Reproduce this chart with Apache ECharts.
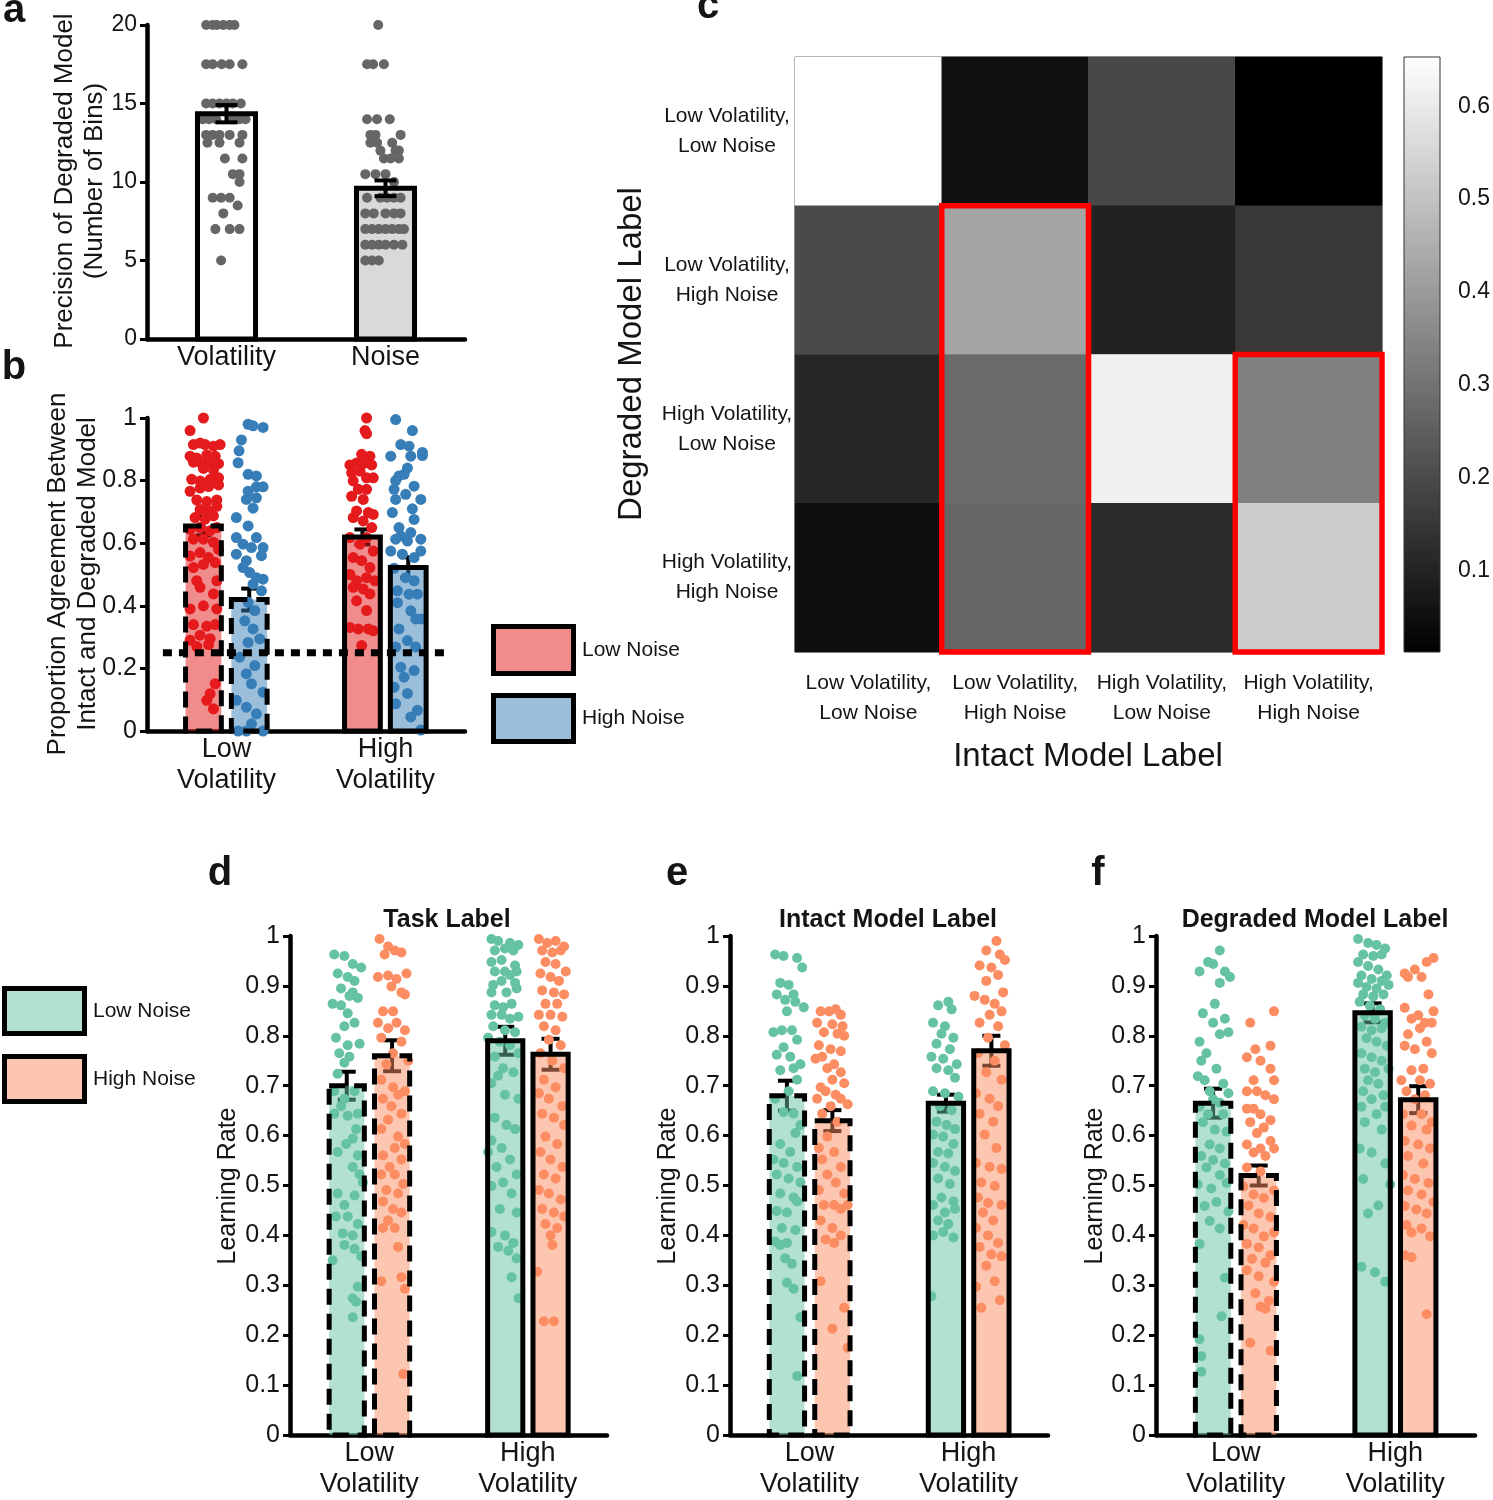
<!DOCTYPE html>
<html>
<head>
<meta charset="utf-8">
<script src="https://cdn.jsdelivr.net/npm/echarts@6/dist/echarts.min.js"></script>
<style>
  html, body { margin: 0; background: #fff; }
  #chart { width: 1493px; height: 1500px; }
</style>
</head>
<body>
<div id="chart"></div>
<script>
// ---------- a: precision of degraded model ----------
const precisionCats = ['Volatility', 'Noise']
const precisionMean = [14.35, 9.6]
const precisionSem = [0.55, 0.5]
// dots: [jitter, number of bins]
const precisionVolDots = [[-0.128,20],[-0.087,20],[-0.06,20],[-0.02,20],[0.02,20],[0.05,20],[-0.128,17.5],[-0.087,17.5],[-0.03,17.5],[0.02,17.5],[0.1,17.5],[-0.128,15],[-0.087,15],[-0.044,15],[0,15],[0.04,15],[0.09,15],[-0.15,14],[-0.11,14],[-0.065,14],[0.04,14],[0.082,14],[0.12,14],[-0.128,13],[-0.087,13],[-0.044,13],[0.02,13],[0.1,13],[-0.12,12.5],[-0.044,12.5],[0.082,12.5],[-0.01,11.5],[0.1,11.5],[0.04,10.5],[0.082,10.5],[0.082,10],[-0.087,9],[-0.034,9],[0.02,9],[0.07,8.5],[-0.02,8],[-0.07,7],[0.02,7],[0.082,7],[-0.034,5]]
const precisionNoiseDots = [[-0.046,20],[-0.116,17.5],[-0.078,17.5],[-0.01,17.5],[-0.116,14],[-0.053,14],[0.027,14],[-0.095,13],[-0.063,13],[0.095,13],[-0.095,12.5],[-0.053,12.5],[0.042,12.5],[-0.032,12],[0.063,12],[0.084,12],[-0.01,11.5],[0.032,11.5],[0.084,11.5],[-0.127,10.5],[-0.063,10.5],[0,10.5],[0.053,10],[-0.116,9],[-0.032,9],[0.01,9],[0.053,9],[0.095,9],[-0.127,8],[-0.074,8],[0,8],[0.053,8],[0.095,8],[-0.127,7],[-0.084,7],[-0.042,7],[0,7],[0.042,7],[0.084,7],[0.116,7],[-0.127,6],[-0.084,6],[-0.042,6],[0,6],[0.053,6],[0.106,6],[-0.127,5],[-0.084,5],[-0.042,5]]

// ---------- b: agreement between intact and degraded model ----------
const volCats = ['Low\nVolatility', 'High\nVolatility']
const agreeLowNoise = [0.655, 0.62]
const agreeLowNoiseSem = [0.03, 0.024]
const agreeHighNoise = [0.42, 0.522]
const agreeHighNoiseSem = [0.035, 0.033]
const chanceLevel = 0.25
const agreeLowNoiseLowVolDots = [[0,1.0],[-0.084,0.96],[-0.063,0.915],[-0.021,0.92],[0.011,0.915],[0.063,0.91],[0.105,0.915],[-0.084,0.878],[-0.042,0.872],[0.021,0.882],[0.074,0.878],[-0.063,0.859],[-0.011,0.854],[0.042,0.859],[0.095,0.854],[0,0.839],[0.063,0.834],[-0.074,0.804],[-0.021,0.799],[0.042,0.804],[0.095,0.809],[-0.084,0.766],[-0.021,0.776],[0.032,0.781],[0.095,0.786],[-0.042,0.738],[0.021,0.733],[0.084,0.738],[-0.021,0.708],[0.032,0.703],[0.084,0.718],[-0.053,0.682],[0.011,0.677],[0.063,0.687],[-0.084,0.644],[-0.021,0.65],[0.042,0.64],[0.084,0.65],[-0.063,0.613],[0,0.613],[0.063,0.603],[-0.084,0.559],[-0.021,0.57],[0.032,0.554],[0.095,0.58],[-0.063,0.522],[0,0.532],[0.074,0.538],[-0.042,0.48],[0.084,0.48],[-0.021,0.459],[0.063,0.438],[-0.084,0.39],[0,0.4],[0.084,0.39],[-0.063,0.34],[0.021,0.335],[0.074,0.34],[-0.084,0.29],[-0.021,0.306],[0.042,0.295],[-0.042,0.27],[0.032,0.276],[0.074,0.151],[0.042,0.119],[0.021,0.098],[0.063,0.071]]
const agreeLowNoiseHighVolDots = [[0.026,1.0],[0.016,0.96],[0.026,0.95],[-0.005,0.884],[0.047,0.878],[-0.079,0.85],[-0.037,0.856],[0.016,0.856],[0.058,0.85],[-0.068,0.825],[-0.015,0.83],[0.026,0.809],[-0.058,0.799],[0.068,0.809],[-0.026,0.772],[0.026,0.772],[-0.068,0.75],[0.005,0.74],[-0.037,0.703],[0.037,0.698],[0.068,0.692],[-0.058,0.682],[0.005,0.671],[0.058,0.65],[-0.079,0.618],[-0.015,0.597],[0.026,0.618],[0.068,0.575],[-0.058,0.554],[-0.005,0.544],[0.047,0.522],[-0.079,0.5],[-0.037,0.48],[0.026,0.49],[0.079,0.48],[-0.058,0.459],[0.005,0.454],[0.047,0.438],[-0.037,0.416],[0.026,0.385],[-0.079,0.331],[-0.026,0.326],[0.037,0.326],[0.068,0.32],[-0.005,0.273]]
const agreeHighNoiseLowVolDots = [[-0.007,0.98],[0.024,0.975],[0.087,0.97],[-0.049,0.93],[-0.064,0.895],[-0.07,0.857],[-0.007,0.82],[0.045,0.815],[0.087,0.78],[0.045,0.78],[-0.007,0.766],[0.045,0.745],[-0.018,0.74],[0.024,0.712],[-0.081,0.682],[-0.007,0.655],[0.045,0.618],[-0.081,0.618],[-0.039,0.597],[0.014,0.586],[0.087,0.586],[-0.081,0.565],[-0.018,0.544],[0.077,0.56],[-0.039,0.522],[0.003,0.506],[0.045,0.49],[0.087,0.485],[0.024,0.469],[0.077,0.448],[-0.007,0.411],[0.035,0.385],[-0.028,0.352],[0.024,0.326],[0.066,0.294],[-0.007,0.283],[-0.06,0.236],[0.035,0.209],[-0.018,0.183],[0.014,0.151],[0.087,0.124],[-0.081,0.098],[-0.018,0.076],[0.045,0.055],[0.014,0.023],[-0.07,0.0],[-0.018,0.0],[0.087,0.0]]
const agreeHighNoiseHighVolDots = [[-0.079,0.995],[0.026,0.96],[-0.047,0.915],[0.005,0.91],[-0.11,0.878],[0.016,0.878],[0.089,0.89],[0.089,0.88],[-0.005,0.84],[-0.058,0.815],[-0.026,0.82],[-0.079,0.8],[0.037,0.782],[-0.089,0.772],[-0.016,0.756],[-0.079,0.74],[0.079,0.74],[0.026,0.71],[-0.1,0.698],[0.037,0.676],[-0.058,0.65],[0.016,0.634],[-0.047,0.623],[-0.079,0.613],[-0.005,0.607],[0.079,0.613],[-0.11,0.575],[-0.037,0.565],[0.037,0.554],[0.079,0.575],[-0.089,0.52],[-0.016,0.49],[0.037,0.48],[-0.068,0.448],[0.005,0.437],[0.058,0.437],[-0.068,0.41],[0.016,0.384],[0.047,0.358],[0.079,0.358],[-0.058,0.326],[-0.005,0.289],[0.047,0.268],[-0.079,0.268],[-0.047,0.204],[0.037,0.193],[-0.026,0.172],[-0.089,0.14],[-0.005,0.12],[-0.079,0.087],[0.058,0.066],[0.016,0.045],[0.079,0.003]]

// ---------- c: confusion between intact and degraded labels ----------
const modelLabels = ['Low Volatility,\nLow Noise', 'Low Volatility,\nHigh Noise', 'High Volatility,\nLow Noise', 'High Volatility,\nHigh Noise']
// rows: degraded model label (top to bottom), columns: intact model label
const confusion = [
  [0.653, 0.052, 0.193, 0.012],
  [0.198, 0.424, 0.097, 0.153],
  [0.110, 0.278, 0.615, 0.334],
  [0.047, 0.268, 0.120, 0.525]
]
const colourMin = 0.012
const colourMax = 0.653
const colourTicks = [0.1, 0.2, 0.3, 0.4, 0.5, 0.6]
const boxCol = [1, 3]
const boxFirstRow = [1, 2]
const boxLastRow = [3, 3]

// ---------- d-f: learning rates ----------
const taskLowNoise = [0.70, 0.79]
const taskLowNoiseSem = [0.028, 0.028]
const taskHighNoise = [0.76, 0.763]
const taskHighNoiseSem = [0.031, 0.031]
const taskLowNoiseLowVolDots = [[-0.079,0.963],[-0.015,0.96],[0.038,0.944],[0.091,0.937],[-0.057,0.925],[0.006,0.918],[0.049,0.91],[-0.036,0.895],[0.038,0.887],[-0.089,0.864],[-0.036,0.861],[0.017,0.88],[0.070,0.876],[0.006,0.845],[0.049,0.826],[-0.015,0.819],[-0.068,0.796],[0.081,0.784],[0.006,0.781],[-0.047,0.765],[0.017,0.758],[-0.015,0.746],[-0.057,0.724],[-0.079,0.689],[-0.015,0.674],[0.049,0.689],[-0.036,0.659],[-0.079,0.644],[0.006,0.64],[0.070,0.644],[0.059,0.613],[0.038,0.594],[-0.057,0.567],[-0.004,0.583],[0.070,0.56],[0.038,0.537],[0.081,0.522],[-0.057,0.484],[-0.015,0.461],[0.049,0.48],[0.102,0.506],[-0.068,0.438],[0.006,0.438],[0.070,0.423],[-0.025,0.404],[0.038,0.4],[-0.015,0.381],[0.049,0.373],[-0.089,0.35],[0.091,0.358],[0.070,0.297],[0.038,0.274],[0.059,0.267],[0.038,0.236]]
const taskLowNoiseHighVolDots = [[-0.087,0.994],[-0.045,0.99],[0.03,0.986],[0.083,0.982],[-0.066,0.971],[-0.002,0.975],[0.051,0.971],[-0.087,0.948],[-0.023,0.952],[0.062,0.941],[-0.066,0.929],[-0.002,0.929],[0.03,0.922],[0.072,0.929],[-0.076,0.902],[-0.023,0.91],[0.062,0.906],[-0.087,0.887],[0.008,0.887],[0.072,0.895],[-0.066,0.861],[-0.013,0.857],[0.04,0.864],[-0.087,0.842],[-0.023,0.842],[0.03,0.834],[0.083,0.838],[-0.076,0.819],[-0.002,0.811],[0.062,0.807],[-0.108,0.796],[-0.034,0.788],[0.03,0.781],[0.083,0.765],[-0.066,0.758],[-0.013,0.735],[0.051,0.727],[-0.045,0.72],[-0.087,0.705],[-0.002,0.682],[0.083,0.674],[-0.066,0.636],[0.008,0.621],[0.062,0.613],[-0.087,0.59],[-0.023,0.575],[-0.108,0.567],[0.03,0.552],[-0.055,0.537],[0.072,0.522],[-0.013,0.506],[-0.087,0.499],[0.04,0.484],[-0.034,0.453],[0.072,0.446],[-0.087,0.407],[-0.002,0.4],[0.051,0.385],[-0.045,0.377],[0.019,0.369],[0.072,0.354],[0.04,0.316],[0.083,0.274]]
const taskHighNoiseLowVolDots = [[-0.079,0.994],[-0.025,0.979],[0.017,0.971],[-0.047,0.963],[0.059,0.967],[-0.089,0.918],[-0.025,0.921],[0.028,0.914],[0.091,0.925],[-0.004,0.899],[0.059,0.887],[0.081,0.883],[-0.057,0.849],[0.006,0.849],[0.028,0.826],[-0.089,0.826],[-0.025,0.815],[0.081,0.811],[-0.068,0.796],[0.059,0.788],[0.006,0.765],[-0.036,0.743],[0.102,0.75],[-0.068,0.712],[0.006,0.697],[0.038,0.682],[-0.057,0.674],[0.081,0.689],[-0.004,0.659],[0.059,0.644],[-0.025,0.632],[-0.068,0.613],[0.038,0.598],[0.081,0.583],[-0.057,0.56],[0.017,0.575],[0.059,0.552],[-0.015,0.537],[-0.068,0.522],[0.017,0.522],[0.07,0.503],[-0.036,0.491],[0.038,0.484],[-0.057,0.468],[0.006,0.453],[0.059,0.446],[-0.025,0.43],[-0.057,0.415],[0.017,0.415],[0.038,0.377],[-0.068,0.308],[0.059,0.316],[0.081,0.293],[0.07,0.122]]
const taskHighNoiseHighVolDots = [[-0.074,0.994],[-0.021,0.986],[0.032,0.99],[0.085,0.979],[-0.053,0.971],[0.011,0.967],[0.064,0.971],[-0.032,0.948],[0.032,0.944],[0.096,0.929],[-0.064,0.925],[0,0.918],[0.053,0.91],[-0.053,0.891],[0.021,0.887],[0.085,0.883],[-0.032,0.864],[0.042,0.864],[-0.074,0.842],[0,0.842],[0.074,0.838],[-0.042,0.819],[0.032,0.811],[-0.011,0.792],[0.064,0.781],[-0.064,0.765],[0.011,0.75],[0.085,0.735],[-0.042,0.712],[0.032,0.697],[-0.074,0.685],[-0.011,0.674],[0.074,0.659],[-0.053,0.644],[0.021,0.636],[0.085,0.621],[-0.032,0.598],[0.042,0.583],[-0.064,0.567],[0,0.552],[0.074,0.537],[-0.042,0.522],[0.032,0.514],[-0.074,0.491],[-0.011,0.484],[0.064,0.472],[-0.053,0.453],[0.021,0.446],[0.085,0.438],[-0.032,0.423],[0.042,0.415],[0,0.4],[0.011,0.381],[-0.085,0.327],[-0.042,0.228],[0.021,0.228]]

const intactLowNoise = [0.68, 0.665]
const intactLowNoiseSem = [0.03, 0.017]
const intactHighNoise = [0.63, 0.77]
const intactHighNoiseSem = [0.021, 0.03]
const intactLowNoiseLowVolDots = [[-0.074,0.963],[-0.021,0.96],[0.064,0.956],[0.096,0.937],[-0.042,0.906],[0.011,0.902],[0.042,0.883],[-0.064,0.883],[-0.011,0.872],[0.053,0.868],[0.106,0.857],[0,0.849],[-0.085,0.807],[-0.032,0.811],[0.032,0.811],[0.064,0.792],[-0.021,0.777],[-0.064,0.762],[0.021,0.758],[0.085,0.743],[0.042,0.735],[-0.042,0.731],[0.064,0.712],[0.011,0.689],[-0.074,0.674],[-0.021,0.647],[0.042,0.644],[0.085,0.621],[0.053,0.605],[-0.042,0.583],[0.021,0.567],[-0.085,0.552],[-0.021,0.545],[0.064,0.537],[-0.064,0.522],[0.011,0.514],[0.085,0.506],[-0.042,0.484],[0.042,0.476],[-0.064,0.449],[0,0.446],[0.064,0.468],[-0.032,0.415],[0.053,0.411],[-0.074,0.388],[0,0.385],[-0.042,0.381],[-0.011,0.354],[0.032,0.343],[0,0.305],[0.042,0.293],[0.085,0.236],[0.064,0.118]]
const intactLowNoiseHighVolDots = [[0.015,0.868],[-0.049,0.861],[0.036,0.853],[-0.081,0.826],[-0.006,0.819],[-0.028,0.804],[0.047,0.796],[-0.059,0.784],[0.025,0.773],[-0.091,0.758],[-0.017,0.754],[0.068,0.743],[-0.059,0.735],[0.015,0.731],[0.057,0.716],[-0.081,0.689],[-0.006,0.685],[0.079,0.678],[-0.038,0.659],[0.036,0.651],[-0.059,0.628],[0.004,0.621],[0.057,0.613],[-0.081,0.602],[-0.017,0.598],[0.047,0.583],[-0.049,0.567],[0.015,0.564],[-0.081,0.545],[-0.006,0.537],[0.057,0.529],[-0.049,0.514],[0.025,0.503],[-0.028,0.476],[0.047,0.468],[-0.081,0.461],[-0.006,0.446],[0.057,0.453],[-0.049,0.43],[0.015,0.423],[-0.081,0.4],[-0.017,0.407],[0.047,0.396],[-0.091,0.278]]
const intactHighNoiseLowVolDots = [[-0.074,0.849],[-0.021,0.849],[0.021,0.853],[0.053,0.842],[-0.096,0.826],[0,0.823],[0.064,0.819],[-0.053,0.807],[0.032,0.804],[0.074,0.8],[-0.085,0.781],[-0.011,0.773],[0.053,0.769],[-0.064,0.758],[0.011,0.743],[-0.106,0.754],[-0.032,0.735],[0.053,0.727],[0,0.712],[-0.074,0.697],[0.074,0.705],[-0.042,0.689],[0.021,0.682],[-0.096,0.674],[0.053,0.674],[-0.011,0.659],[0.096,0.663],[-0.064,0.644],[0.032,0.628],[-0.032,0.598],[-0.085,0.575],[0.011,0.567],[-0.064,0.552],[0.053,0.537],[-0.032,0.522],[0.021,0.506],[-0.085,0.491],[0.074,0.484],[-0.053,0.461],[0.011,0.461],[0.053,0.453],[0.096,0.461],[-0.074,0.43],[0,0.415],[0.053,0.4],[-0.042,0.392],[0.011,0.385],[-0.074,0.308],[0.074,0.255],[0,0.213],[0.096,0.175]]
const intactHighNoiseHighVolDots = [[0.032,0.99],[-0.032,0.971],[0.053,0.963],[0.085,0.952],[-0.074,0.941],[0,0.937],[0.042,0.922],[-0.032,0.91],[0.074,0.887],[-0.106,0.88],[-0.042,0.872],[0.021,0.864],[0.064,0.849],[-0.011,0.842],[-0.074,0.826],[0.042,0.819],[-0.021,0.796],[0.085,0.781],[-0.085,0.765],[0.021,0.75],[-0.032,0.727],[0.064,0.712],[-0.096,0.685],[-0.011,0.674],[0.042,0.659],[-0.074,0.644],[0.011,0.628],[-0.042,0.602],[0.032,0.575],[-0.096,0.545],[-0.011,0.537],[0.064,0.533],[-0.064,0.506],[0.021,0.499],[-0.085,0.476],[-0.021,0.465],[0.064,0.461],[-0.053,0.446],[0.011,0.43],[-0.096,0.415],[-0.021,0.4],[0.042,0.385],[-0.074,0.377],[0,0.362],[0.064,0.358],[-0.032,0.339],[0.021,0.308],[-0.096,0.297],[0.053,0.27],[-0.064,0.255]]

const degradedLowNoise = [0.665, 0.846]
const degradedLowNoiseSem = [0.029, 0.019]
const degradedHighNoise = [0.52, 0.672]
const degradedHighNoiseSem = [0.02, 0.027]
const degradedLowNoiseLowVolDots = [[0.042,0.971],[-0.032,0.948],[0,0.944],[0.074,0.929],[0.106,0.918],[-0.085,0.929],[0.042,0.906],[0.011,0.864],[-0.064,0.845],[0.074,0.834],[0,0.826],[0.096,0.807],[0.042,0.803],[-0.085,0.788],[-0.042,0.765],[-0.074,0.75],[0.021,0.734],[-0.096,0.719],[-0.053,0.711],[0.064,0.704],[-0.021,0.689],[0,0.673],[0.096,0.685],[0.042,0.666],[-0.085,0.658],[-0.032,0.643],[0.064,0.643],[-0.064,0.627],[0.011,0.612],[0.085,0.608],[-0.021,0.582],[0.042,0.574],[-0.074,0.559],[0,0.551],[0.074,0.544],[-0.042,0.536],[0.042,0.521],[-0.096,0.502],[-0.011,0.494],[0.085,0.505],[0.021,0.467],[-0.053,0.459],[0.096,0.448],[-0.021,0.429],[0.042,0.414],[-0.085,0.383],[0.074,0.315],[0.053,0.238],[-0.085,0.192],[-0.074,0.158],[-0.074,0.127]]
const degradedLowNoiseHighVolDots = [[-0.091,0.994],[-0.028,0.986],[0.025,0.982],[0.079,0.975],[-0.059,0.963],[0.004,0.96],[0.057,0.963],[-0.091,0.948],[-0.028,0.94],[0.036,0.933],[0.089,0.921],[-0.07,0.921],[-0.006,0.914],[0.057,0.91],[-0.091,0.906],[-0.038,0.898],[0.025,0.895],[0.1,0.902],[-0.059,0.883],[0.004,0.879],[0.068,0.883],[-0.081,0.868],[-0.017,0.86],[0.047,0.853],[-0.049,0.841],[0.015,0.834],[0.079,0.826],[-0.07,0.818],[-0.006,0.811],[0.057,0.815],[-0.038,0.795],[0.025,0.788],[0.089,0.78],[-0.07,0.765],[-0.006,0.757],[0.057,0.75],[-0.049,0.734],[0.015,0.727],[0.1,0.734],[-0.028,0.711],[0.036,0.704],[-0.059,0.689],[0.068,0.681],[-0.006,0.673],[-0.07,0.658],[0.079,0.658],[0.025,0.643],[-0.049,0.627],[0.057,0.612],[-0.081,0.574],[-0.006,0.566],[0.079,0.544],[-0.059,0.513],[0.11,0.502],[0.036,0.46],[-0.028,0.444],[-0.07,0.337],[0.015,0.326],[0.079,0.307]]
const degradedHighNoiseLowVolDots = [[0.096,0.849],[-0.053,0.826],[-0.021,0.773],[0.074,0.78],[-0.074,0.757],[0.011,0.75],[0.074,0.734],[-0.032,0.711],[0.096,0.711],[-0.074,0.689],[-0.011,0.689],[0.042,0.681],[-0.032,0.654],[0.096,0.673],[-0.074,0.654],[0.011,0.643],[0.074,0.631],[-0.053,0.627],[0.032,0.616],[-0.011,0.605],[0.074,0.589],[-0.074,0.582],[0.011,0.574],[0.096,0.574],[-0.032,0.566],[0.042,0.559],[-0.074,0.536],[0.011,0.528],[-0.096,0.498],[-0.032,0.482],[0.032,0.475],[0.096,0.49],[-0.064,0.46],[0,0.444],[0.074,0.437],[-0.096,0.421],[-0.032,0.414],[0.032,0.398],[0.096,0.406],[-0.074,0.383],[0,0.376],[0.074,0.36],[-0.042,0.353],[0.042,0.345],[-0.074,0.33],[0,0.318],[0.096,0.307],[-0.021,0.284],[0.064,0.269],[0.011,0.257],[0.042,0.253],[-0.053,0.185],[0.074,0.169]]
const degradedHighNoiseHighVolDots = [[0.096,0.956],[0.053,0.948],[-0.085,0.925],[-0.021,0.933],[0.021,0.918],[-0.064,0.918],[0.064,0.883],[-0.085,0.856],[0,0.841],[0.096,0.849],[-0.042,0.834],[0.042,0.826],[0.085,0.826],[0.011,0.815],[-0.064,0.803],[0.053,0.788],[-0.085,0.78],[-0.021,0.773],[0.085,0.765],[0.032,0.734],[-0.042,0.731],[-0.106,0.711],[0.011,0.711],[0.074,0.704],[-0.074,0.689],[0.042,0.681],[-0.021,0.673],[-0.096,0.643],[0.021,0.643],[0.085,0.627],[-0.042,0.62],[0.053,0.612],[-0.085,0.589],[0,0.582],[0.074,0.574],[-0.064,0.559],[0.032,0.544],[-0.096,0.521],[-0.021,0.513],[0.064,0.505],[-0.064,0.49],[0.021,0.482],[0.096,0.467],[-0.085,0.459],[-0.011,0.452],[0.053,0.444],[-0.074,0.421],[0.021,0.414],[-0.042,0.406],[0.074,0.398],[-0.085,0.36],[-0.042,0.356],[0.053,0.242]]

// ---------- drawing ----------
const F = "'Liberation Sans', Arial, Helvetica, sans-serif"
const INK = '#141414'
const RED = '#e41a1c', BLUE = '#377eb8', TEAL = '#66c2a5', ORANGE = '#fc8d62'

const chart = echarts.init(document.getElementById('chart'))

const grids = [
  { left: 147, top: 25, width: 318, height: 314 },   // a
  { left: 147, top: 418, width: 318, height: 313 },  // b
  { left: 795, top: 57, width: 587, height: 595, show: true, borderColor: '#3a3a3a', borderWidth: 1 }, // c
  { left: 1404, top: 57, width: 36, height: 595 },   // colour bar
  { left: 290, top: 936, width: 317, height: 501 },  // d
  { left: 730, top: 936, width: 318, height: 501 },  // e
  { left: 1156, top: 936, width: 319, height: 501 }  // f
]
const xAxes = []
const yAxes = []
const series = []

function barAxes(g, labels, yMax, step, tickFont, digits) {
  xAxes.push({
    gridIndex: g, type: 'value', min: 0.5, max: 2.5, splitLine: { show: false },
    axisLine: { lineStyle: { color: '#000', width: 4.5 } }, axisTick: { show: false },
    axisLabel: { customValues: [1, 2], formatter: v => labels[Math.round(v) - 1], fontSize: 27, lineHeight: 31,
      color: INK, margin: 3, fontFamily: F }
  })
  yAxes.push({
    gridIndex: g, type: 'value', min: 0, max: yMax, interval: step, splitLine: { show: false },
    axisLine: { show: true, lineStyle: { color: '#000', width: 4.5 } },
    axisTick: { show: true, length: 7, lineStyle: { color: '#000', width: 3 } },
    axisLabel: { fontSize: tickFont, color: INK, margin: 10, fontFamily: F, formatter: v => String(+v.toFixed(digits)) }
  })
}

function errorBar(api, shift, cap) {
  const x = api.value(0) + shift
  const hi = api.coord([x, api.value(1) + api.value(2)])
  const lo = api.coord([x, api.value(1) - api.value(2)])
  const st = { stroke: '#000', lineWidth: 4 }
  return {
    type: 'group', children: [
      { type: 'line', shape: { x1: hi[0], y1: hi[1], x2: lo[0], y2: lo[1] }, style: st },
      { type: 'line', shape: { x1: hi[0] - cap, y1: hi[1], x2: hi[0] + cap, y2: hi[1] }, style: st },
      { type: 'line', shape: { x1: lo[0] - cap, y1: lo[1], x2: lo[0] + cap, y2: lo[1] }, style: st }
    ]
  }
}

// one bar per category: fill, outline (dashed for low volatility) and s.e.m. bar
// fills: one colour per category
function barGroup(g, means, sems, shift, width, fills, fillOpacity, dashFirst, errorOnTop, cap) {
  const data = means.map((m, i) => [i + 1, m, sems[i]])
  const rectOf = api => {
    const x = api.value(0) + shift
    const p0 = api.coord([x - width / 2, api.value(1)])
    const p1 = api.coord([x + width / 2, 0])
    return { x: p0[0], y: p0[1], width: p1[0] - p0[0], height: p1[1] - p0[1] }
  }
  const base = { type: 'custom', xAxisIndex: g, yAxisIndex: g, data, silent: true }
  series.push(
    { ...base, z: errorOnTop ? 6 : 1, renderItem: (p, api) => errorBar(api, shift, cap) },
    { ...base, z: 2, renderItem: (p, api) => ({ type: 'rect', shape: rectOf(api),
        style: { fill: fills[p.dataIndex], opacity: fillOpacity } }) },
    { ...base, z: 5, renderItem: (p, api) => ({
        type: 'rect', shape: rectOf(api),
        style: { fill: 'none', stroke: '#000', lineWidth: 5, lineDash: dashFirst && api.value(0) === 1 ? [16, 9] : null }
      }) }
  )
}

function dotSeries(g, dotsPerCat, shift, color, size) {
  const data = []
  dotsPerCat.forEach((list, i) => list.forEach(d => data.push([i + 1 + shift + d[0], d[1]])))
  series.push({ type: 'scatter', xAxisIndex: g, yAxisIndex: g, data, symbolSize: size,
    itemStyle: { color, opacity: 1 }, z: 3, silent: true, clip: false })
}

// a
barAxes(0, precisionCats, 20, 5, 23, 0)
barGroup(0, precisionMean, precisionSem, 0, 0.365, ['#ffffff', '#d9d9d9'], 1, false, true, 11)
dotSeries(0, [precisionVolDots, precisionNoiseDots], 0, '#666666', 10)

// b
barAxes(1, volCats, 1, 0.2, 25, 1)
barGroup(1, agreeLowNoise, agreeLowNoiseSem, -0.145, 0.225, [RED, RED], 0.5, true, false, 8)
barGroup(1, agreeHighNoise, agreeHighNoiseSem, 0.143, 0.225, [BLUE, BLUE], 0.5, true, false, 8)
dotSeries(1, [agreeLowNoiseLowVolDots, agreeLowNoiseHighVolDots], -0.145, RED, 11)
dotSeries(1, [agreeHighNoiseLowVolDots, agreeHighNoiseHighVolDots], 0.143, BLUE, 11)
series.push({ type: 'custom', xAxisIndex: 1, yAxisIndex: 1, silent: true, z: 7, data: [[chanceLevel]],
  renderItem: (p, api) => {
    const a = api.coord([0.6, api.value(0)]), b = api.coord([2.4, api.value(0)])
    return { type: 'line', shape: { x1: a[0], y1: a[1], x2: b[0], y2: b[1] }, style: { stroke: '#000', lineWidth: 7, lineDash: [9, 7] } }
  } })

// c heatmap
xAxes.push({ gridIndex: 2, type: 'category', data: modelLabels, axisLine: { show: false }, axisTick: { show: false },
  axisLabel: { interval: 0, fontSize: 21, lineHeight: 30, margin: 16, color: INK, fontFamily: F } })
yAxes.push({ gridIndex: 2, type: 'category', data: modelLabels, inverse: true, axisLine: { show: false }, axisTick: { show: false },
  axisLabel: { interval: 0, align: 'center', fontSize: 21, lineHeight: 30, margin: 68, color: INK, fontFamily: F } })
const heatData = []
confusion.forEach((row, r) => row.forEach((v, c) => heatData.push([c, r, v])))
series.push({ type: 'heatmap', xAxisIndex: 2, yAxisIndex: 2, data: heatData, silent: true, z: 1 })
series.push({ type: 'custom', xAxisIndex: 2, yAxisIndex: 2, silent: true, z: 3,
  data: boxCol.map((c, i) => [c, boxFirstRow[i], boxLastRow[i]]),
  renderItem: (p, api) => {
    const a = api.coord([api.value(0), api.value(1)])
    const b = api.coord([api.value(0), api.value(2)])
    const sz = api.size([1, 1])
    return { type: 'rect', shape: { x: a[0] - sz[0] / 2, y: a[1] - sz[1] / 2, width: sz[0], height: b[1] - a[1] + sz[1] },
      style: { fill: 'none', stroke: '#ff0000', lineWidth: 5.5 } }
  } })

// colour bar
xAxes.push({ gridIndex: 3, type: 'value', min: 0, max: 1, show: false })
yAxes.push({ gridIndex: 3, type: 'value', position: 'right', min: colourMin, max: colourMax, splitLine: { show: false },
  axisLine: { show: false },
  axisTick: { show: true, customValues: colourTicks, length: 6, lineStyle: { color: '#333' } },
  axisLabel: { customValues: colourTicks, formatter: v => v.toFixed(1), fontSize: 23, color: INK, margin: 18, fontFamily: F } })
series.push({ type: 'custom', xAxisIndex: 3, yAxisIndex: 3, silent: true, data: [[colourMin, colourMax]],
  renderItem: (p, api) => {
    const top = api.coord([0, api.value(1)]), bot = api.coord([1, api.value(0)])
    return { type: 'rect', shape: { x: top[0], y: top[1], width: bot[0] - top[0], height: bot[1] - top[1] },
      style: { stroke: '#333', lineWidth: 1,
        fill: new echarts.graphic.LinearGradient(0, 0, 0, 1, [{ offset: 0, color: '#ffffff' }, { offset: 1, color: '#000000' }]) } }
  } })

// d, e, f
const lrPanels = [
  [4, taskLowNoise, taskLowNoiseSem, taskHighNoise, taskHighNoiseSem,
    [taskLowNoiseLowVolDots, taskLowNoiseHighVolDots], [taskHighNoiseLowVolDots, taskHighNoiseHighVolDots]],
  [5, intactLowNoise, intactLowNoiseSem, intactHighNoise, intactHighNoiseSem,
    [intactLowNoiseLowVolDots, intactLowNoiseHighVolDots], [intactHighNoiseLowVolDots, intactHighNoiseHighVolDots]],
  [6, degradedLowNoise, degradedLowNoiseSem, degradedHighNoise, degradedHighNoiseSem,
    [degradedLowNoiseLowVolDots, degradedLowNoiseHighVolDots], [degradedHighNoiseLowVolDots, degradedHighNoiseHighVolDots]]
]
lrPanels.forEach(([g, lo, loSem, hi, hiSem, loDots, hiDots]) => {
  barAxes(g, volCats, 1, 0.1, 25, 1)
  barGroup(g, lo, loSem, -0.142, 0.222, [TEAL, TEAL], 0.5, true, false, 9)
  barGroup(g, hi, hiSem, 0.144, 0.222, [ORANGE, ORANGE], 0.5, true, false, 9)
  dotSeries(g, loDots, -0.142, TEAL, 10)
  dotSeries(g, hiDots, 0.144, ORANGE, 10)
})

// texts, legends
const txt = (x, y, text, size, opts = {}) => ({ type: 'text', x, y, rotation: opts.rot || 0, silent: true,
  style: { text, fill: INK, font: `${opts.bold ? 'bold ' : ''}${size}px ${F}`, textAlign: opts.align || 'center',
    textVerticalAlign: 'middle', lineHeight: opts.lh || size * 1.2 } })
const box = (x, y, w, h, fill) => ({ type: 'rect', silent: true, shape: { x, y, width: w, height: h },
  style: { fill, stroke: '#000', lineWidth: 5 } })

const graphic = [
  txt(14, 11, 'a', 40, { bold: true }), txt(14, 368, 'b', 40, { bold: true }), txt(708, 7, 'c', 40, { bold: true }),
  txt(220, 874, 'd', 40, { bold: true }), txt(677, 874, 'e', 40, { bold: true }), txt(1098, 874, 'f', 40, { bold: true }),
  txt(80, 181, 'Precision of Degraded Model\n(Number of Bins)', 26, { rot: Math.PI / 2, lh: 30 }),
  txt(73, 574, 'Proportion Agreement Between\nIntact and Degraded Model', 26, { rot: Math.PI / 2, lh: 30 }),
  txt(632, 354, 'Degraded Model Label', 33, { rot: Math.PI / 2 }),
  txt(1088, 757, 'Intact Model Label', 33),
  txt(228, 1186, 'Learning Rate', 25, { rot: Math.PI / 2 }),
  txt(668, 1186, 'Learning Rate', 25, { rot: Math.PI / 2 }),
  txt(1095, 1186, 'Learning Rate', 25, { rot: Math.PI / 2 }),
  txt(447, 920, 'Task Label', 25, { bold: true }),
  txt(888, 920, 'Intact Model Label', 25, { bold: true }),
  txt(1315, 920, 'Degraded Model Label', 25, { bold: true }),
  box(493.5, 626.5, 80, 47, '#f18c8d'), txt(582, 650, 'Low Noise', 21, { align: 'left' }),
  box(493.5, 695.5, 80, 46, '#9bbedb'), txt(582, 718, 'High Noise', 21, { align: 'left' }),
  box(4.5, 988.5, 80, 45, '#b2e0d2'), txt(93, 1011, 'Low Noise', 21, { align: 'left' }),
  box(4.5, 1056.5, 80, 45, '#fdc6b0'), txt(93, 1079, 'High Noise', 21, { align: 'left' })
]

chart.setOption({
  animation: false,
  backgroundColor: '#fff',
  textStyle: { fontFamily: F },
  grid: grids,
  xAxis: xAxes,
  yAxis: yAxes,
  visualMap: { type: 'continuous', show: false, seriesIndex: series.findIndex(s => s.type === 'heatmap'),
    min: colourMin, max: colourMax, inRange: { color: ['#000000', '#ffffff'] } },
  series,
  graphic
})
</script>
</body>
</html>
